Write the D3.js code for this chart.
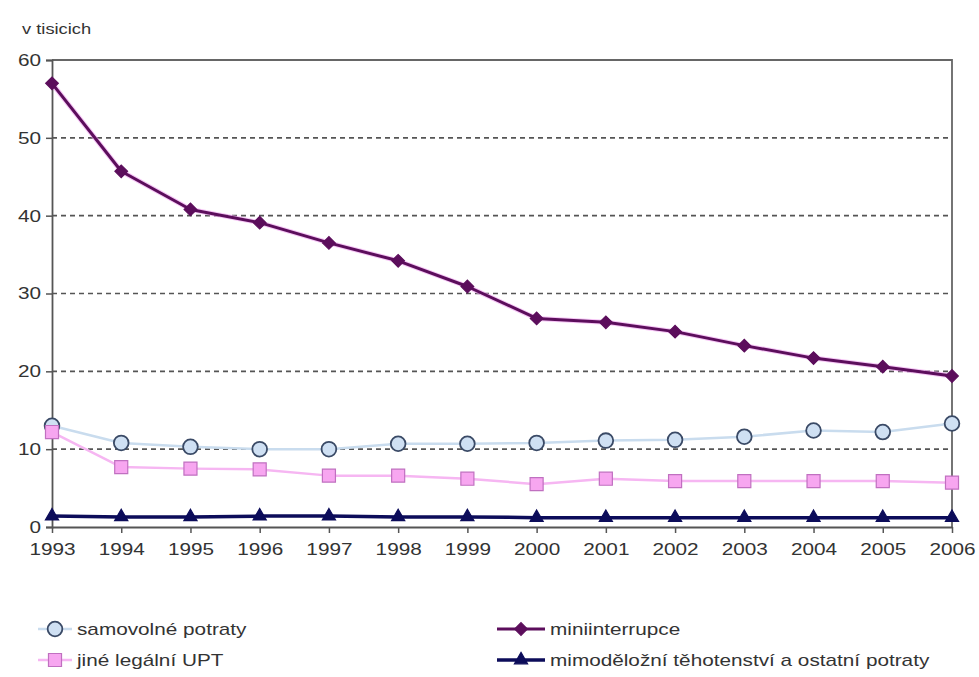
<!DOCTYPE html>
<html>
<head>
<meta charset="utf-8">
<script src="https://cdn.jsdelivr.net/npm/d3@7"></script>
<style>
  html, body { margin: 0; padding: 0; background: #fff; }
  svg { display: block; }
  text { font-family: "Liberation Sans", Arial, sans-serif; fill: #333; }
</style>
</head>
<body>
<svg id="chart" width="979" height="677"></svg>
<script>
// Potraty v ČR 1993–2006 (v tisících)
const years = [1993, 1994, 1995, 1996, 1997, 1998, 1999, 2000, 2001, 2002, 2003, 2004, 2005, 2006];
const samovolne = [13.0, 10.8, 10.3, 10.0, 10.0, 10.7, 10.7, 10.8, 11.1, 11.2, 11.6, 12.4, 12.2, 13.3];
const jineUPT = [12.2, 7.7, 7.5, 7.4, 6.6, 6.6, 6.2, 5.5, 6.2, 5.9, 5.9, 5.9, 5.9, 5.7];
const miniinterrupce = [57.0, 45.7, 40.8, 39.1, 36.5, 34.2, 30.9, 26.8, 26.3, 25.1, 23.3, 21.7, 20.6, 19.4];
const mimodelozni = [1.4, 1.3, 1.3, 1.4, 1.4, 1.3, 1.3, 1.2, 1.2, 1.2, 1.2, 1.2, 1.2, 1.2];
const yTicks = [0, 10, 20, 30, 40, 50, 60];
const unitLabel = "v tisicich";

const series = [
  { name: "samovolné potraty", values: samovolne, line: "#c9dcee", lw: 2.5, marker: "circle", fill: "#cfe0f3", stroke: "#3a4a66" },
  { name: "jiné legální UPT", values: jineUPT, line: "#f6b6f2", lw: 2.5, marker: "square", fill: "#f7a6f0", stroke: "#c070c0" },
  { name: "miniinterrupce", values: miniinterrupce, line: "#5c0e5c", lw: 3, marker: "diamond", fill: "#5c0e5c", stroke: "#5c0e5c", halo: "#f0a0f0" },
  { name: "mimoděložní těhotenství a ostatní potraty", values: mimodelozni, line: "#0c0c5a", lw: 3.5, marker: "triangle", fill: "#0c0c5a", stroke: "#0c0c5a" }
];

const svg = d3.select("#chart");
const m = { left: 52, right: 27, top: 60, bottom: 150 };
const W = 979, H = 677;

const x = d3.scaleLinear().domain([years[0], years[years.length - 1]]).range([m.left, W - m.right]);
const y = d3.scaleLinear().domain([0, 60]).range([527, m.top]);

// the chart's type is set wide: stretch each label horizontally
const stretch = 1.22;
function widen(sel, size) {
  sel.each(function () {
    const t = d3.select(this);
    t.attr("font-size", size);
    const len = this.getComputedTextLength();
    t.attr("textLength", len * stretch).attr("lengthAdjust", "spacingAndGlyphs");
  });
}

// dashed gridlines
svg.append("g").selectAll("line")
  .data(yTicks.filter(t => t > 0 && t < 60))
  .join("line")
  .attr("x1", m.left).attr("x2", W - m.right)
  .attr("y1", d => y(d)).attr("y2", d => y(d))
  .attr("stroke", "#555").attr("stroke-width", 1.6)
  .attr("stroke-dasharray", "5,4");

// plot frame (top and right)
svg.append("path")
  .attr("d", `M${m.left},${y(60)}H${W - m.right}V${y(0)}`)
  .attr("fill", "none").attr("stroke", "#666").attr("stroke-width", 1.8);

const axisFont = "'Liberation Sans', Arial, sans-serif";

// y axis
const yAxis = svg.append("g").attr("transform", `translate(${m.left},0)`)
  .call(d3.axisLeft(y).tickValues(yTicks).tickSize(6).tickPadding(5));
yAxis.select(".domain").attr("stroke", "#555").attr("stroke-width", 1.8);
yAxis.selectAll(".tick line").attr("stroke", "#555").attr("stroke-width", 1.5);
yAxis.selectAll(".tick text").attr("fill", "#3a3a3a").style("font-family", axisFont)
  .call(widen, 17);

// x axis
const xAxis = svg.append("g").attr("transform", `translate(0,${y(0)})`)
  .call(d3.axisBottom(x).tickValues(years).tickFormat(d3.format("d")).tickSizeInner(6).tickSizeOuter(0).tickPadding(10));
xAxis.select(".domain").attr("stroke", "#555").attr("stroke-width", 1.8);
xAxis.selectAll(".tick line").attr("stroke", "#555").attr("stroke-width", 1.5);
xAxis.selectAll(".tick text").attr("fill", "#3a3a3a").style("font-family", axisFont)
  .call(widen, 17);

svg.append("text").attr("x", 22).attr("y", 34).text(unitLabel).call(widen, 15);

// marker shapes
const symbolFor = {
  circle: d3.symbol().type(d3.symbolCircle).size(170),
  square: d3.symbol().type(d3.symbolSquare).size(170),
  diamond: d3.symbol().type(d3.symbolSquare).size(80),
  triangle: d3.symbol().type(d3.symbolTriangle).size(75)
};

const line = d3.line().x((d, i) => x(years[i])).y(d => y(d));

function drawMarker(g, s, cx, cy) {
  g.append("path")
    .attr("d", symbolFor[s.marker]())
    .attr("transform", `translate(${cx},${cy})` + (s.marker === "diamond" ? " rotate(45)" : ""))
    .attr("fill", s.fill).attr("stroke", s.stroke)
    .attr("stroke-width", s.marker === "circle" ? 1.8 : 1.2);
}

series.forEach(s => {
  const g = svg.append("g");
  if (s.halo) {
    g.append("path").datum(s.values).attr("d", line)
      .attr("fill", "none").attr("stroke", s.halo).attr("stroke-width", s.lw + 2).attr("opacity", 0.6);
  }
  g.append("path").datum(s.values).attr("d", line)
    .attr("fill", "none").attr("stroke", s.line).attr("stroke-width", s.lw)
    .attr("stroke-linejoin", "round");
  s.values.forEach((v, i) => drawMarker(g, s, x(years[i]), y(v)));
});

// legend
const legendPos = [
  { x: 38, y: 629, len: 34 },
  { x: 38, y: 660, len: 34 },
  { x: 497, y: 629, len: 48 },
  { x: 497, y: 660, len: 48 }
];
series.forEach((s, i) => {
  const p = legendPos[i];
  const g = svg.append("g");
  g.append("line").attr("x1", p.x).attr("x2", p.x + p.len).attr("y1", p.y).attr("y2", p.y)
    .attr("stroke", s.line).attr("stroke-width", s.lw);
  drawMarker(g, s, p.x + p.len / 2, p.y);
  g.append("text").attr("x", p.x + p.len + 5).attr("y", p.y + 6)
    .text(s.name).call(widen, 17);
});
</script>
</body>
</html>
